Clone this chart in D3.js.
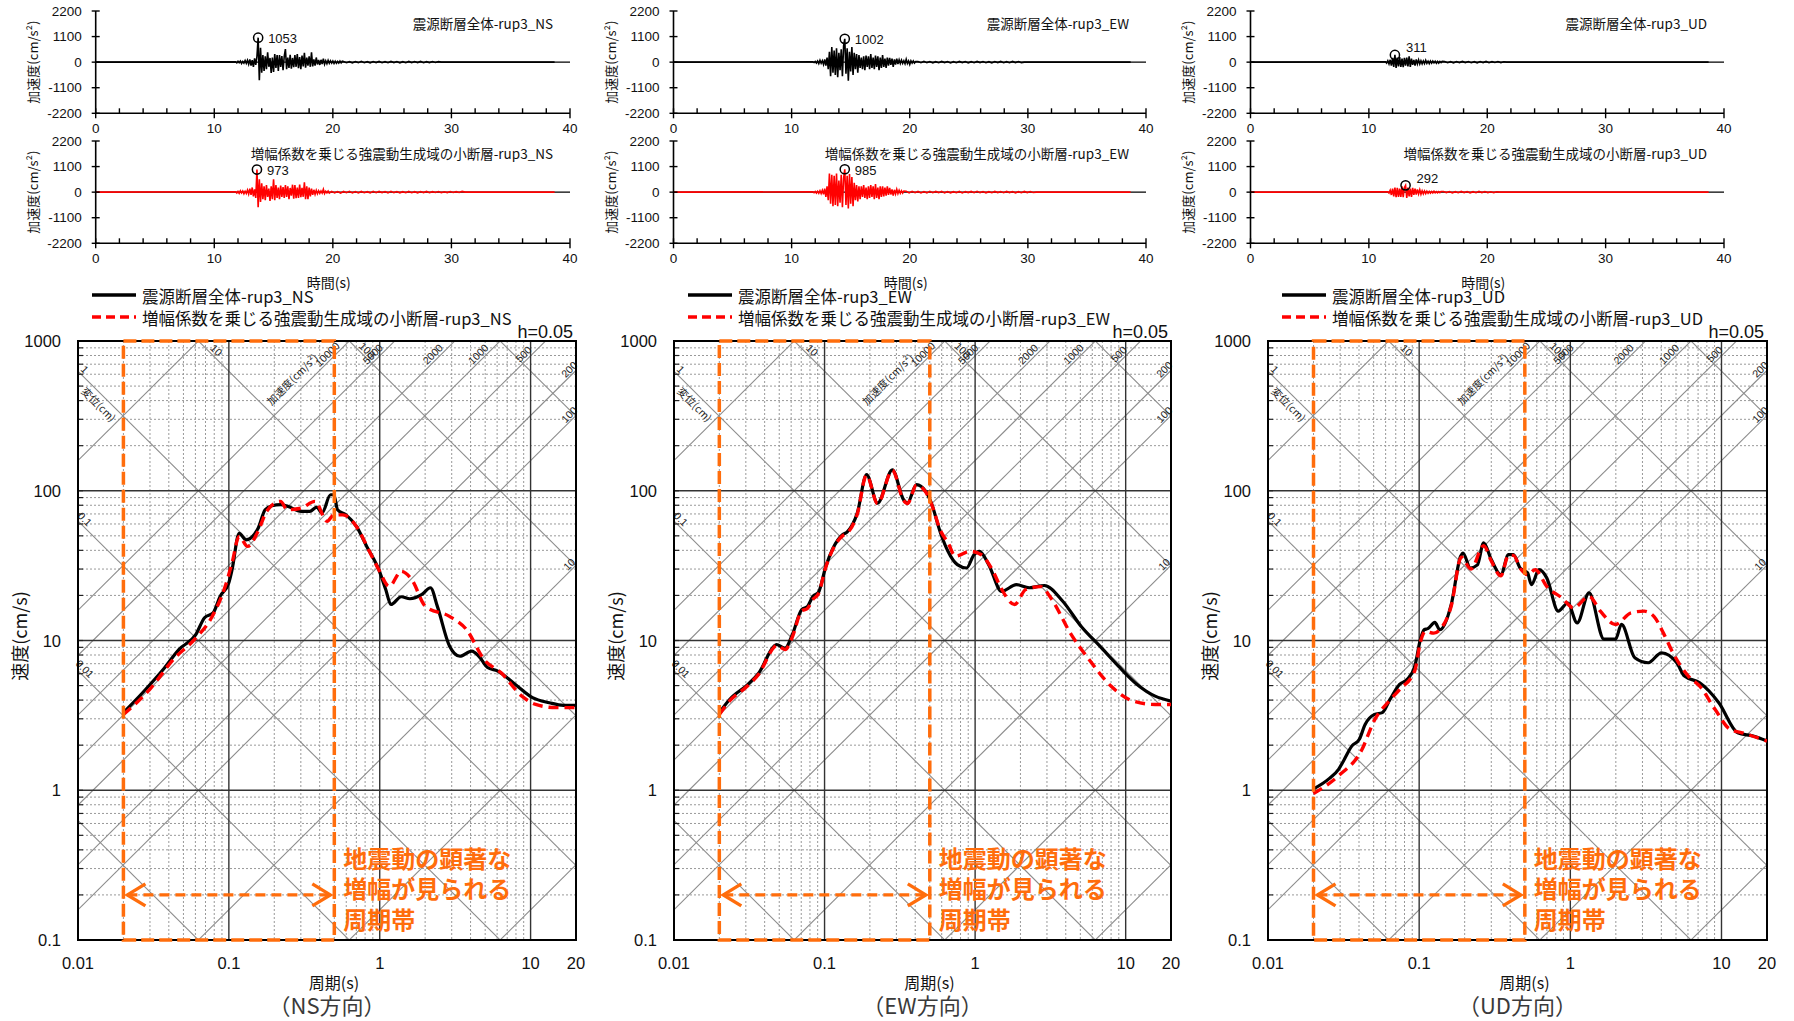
<!DOCTYPE html>
<html><head><meta charset="utf-8">
<script src="https://cdn.jsdelivr.net/npm/d3@7"></script>
<style>
body{margin:0;background:#fff;}
svg{display:block;font-family:"Liberation Sans","Noto Sans CJK JP",sans-serif;}
.cjk{font-family:"Noto Sans CJK JP","Liberation Sans",sans-serif;}
</style></head><body>
<svg id="c" width="1794" height="1021"></svg>
<script>
// ---------------- DATA ----------------
const components = ["NS","EW","UD"];
const directionLabels = ["（NS方向）","（EW方向）","（UD方向）"];
const periodTicks = [0.01,0.1,1,10,20];
const periodTickLabels = ["0.01","0.1","1","10","20"];
const velTicks = [0.1,1,10,100,1000];
const velTickLabels = ["0.1","1","10","100","1000"];
const accLines = [0.1,1,10,100,200,500,1000,2000,5000,10000,100000];
const accLabelled = [10,100,200,500,1000,2000,5000,10000];
const dispLines = [0.001,0.01,0.1,1,10,100,1000];
const dispLabelled = [0.01,0.1,1,10,100];
const bandPeriods = [0.02,0.5];
const bandArrowVel = 0.2;
const bandText = ["地震動の顕著な","増幅が見られる","周期帯"];

// Velocity response spectra (period s, velocity cm/s), h=0.05
const nsBlackT=[0.02,0.0268,0.0367,0.0466,0.0605,0.069,0.0787,0.0875,0.0998,0.105,0.117,0.13,0.156,0.174,0.193,0.22,0.244,0.301,0.344,0.382,0.414,0.472,0.497,0.525,0.598,0.701,0.82,0.986,1.096,1.186,1.39,1.585,1.905,2.17,2.41,2.9,3.4,4.08,4.54,5.18,6.06,7.89,10.3,13.3,16.5,20];
const nsBlackV=[3.3,4.48,6.4,8.7,11,14.2,15.3,19.7,24.2,29.7,52,47,56,74.7,79.4,80.7,79,72.8,72.8,77.8,71,94,94,74.7,69,57.8,42.5,29.7,21.9,17.4,19.6,19,20.3,22.5,16.9,9.2,7.85,8.5,7.85,6.6,6.25,5.1,4.15,3.84,3.69,3.69];
const nsRedT=[0.02,0.0298,0.043,0.0605,0.0767,0.0946,0.105,0.117,0.133,0.156,0.178,0.22,0.244,0.301,0.372,0.448,0.497,0.57,0.70,0.865,0.986,1.156,1.39,1.63,2.01,2.9,3.77,4.91,6.38,8.76,10.8,14.8,20];
const nsRedV=[3.2,4.7,7.5,10.4,14.2,23,33,49.6,42.5,53.5,72.8,84.9,74.7,76.5,84.9,62.5,69,69,57.8,38.4,29.7,23,29,25.5,16.9,14.5,11.8,7.47,6.08,4.25,3.74,3.56,3.56];
const ewBlackT=[0.02,0.0234,0.031,0.0367,0.0461,0.0479,0.0547,0.0612,0.0705,0.0768,0.0836,0.091,0.102,0.114,0.1315,0.141,0.165,0.19,0.225,0.282,0.335,0.355,0.408,0.47,0.512,0.59,0.66,0.762,0.878,0.982,1.07,1.23,1.5,1.88,2.29,2.88,3.82,5.07,6.74,8.95,11.9,15.7,20];
const ewBlackV=[3.3,4.04,5.1,6.1,9.16,9.4,8.9,11,16.1,16.8,19.7,20.9,31.3,41.5,50.9,53,71,128,82.7,138,87,82.7,110,99,82.7,52,39.4,32.1,30.5,37.4,39.4,32.1,21.3,23.6,22.5,23.3,18.3,12.4,9.16,6.74,5.09,4.25,3.94];
const ewRedT=[0.02,0.0234,0.031,0.0367,0.0461,0.0479,0.0547,0.0612,0.0705,0.0768,0.0836,0.091,0.102,0.114,0.1315,0.141,0.165,0.19,0.225,0.282,0.335,0.355,0.408,0.47,0.512,0.59,0.66,0.74,0.928,1.1,1.3,1.5,1.83,2.17,2.72,3.23,4.29,5.69,7.98,11.2,15.7,20];
const ewRedV=[3.2,3.95,5.0,6.0,9.0,9.3,8.7,10.6,15.8,16.3,18.8,20.5,31,41,50,52,70,127,82,137,86,82,109,98,82,54,45,36.5,39.4,37.4,29.7,22,17.4,21.9,22.9,18.8,11.2,7.5,4.96,3.94,3.74,3.74];
const udBlackT=[0.02,0.0255,0.0293,0.0319,0.0358,0.0402,0.0439,0.0507,0.057,0.0641,0.0742,0.0833,0.0936,0.102,0.108,0.114,0.127,0.137,0.163,0.188,0.195,0.218,0.243,0.267,0.30,0.347,0.39,0.42,0.465,0.521,0.553,0.621,0.698,0.832,0.962,1.11,1.33,1.67,1.99,2.18,2.67,3.27,4.01,5.06,5.69,7.18,9.6,12.8,16.2,20];
const udBlackV=[1.02,1.2,1.38,1.6,1.97,2.19,2.75,3.21,3.3,4.04,5.09,5.5,6.74,10.2,11.8,12,13.2,11.8,17.4,36.5,38.4,30.5,32,44.8,34.7,27.5,37.4,37.4,30.5,28.3,23.6,29.7,26.2,15.7,17.8,13.1,20.8,10.2,10.2,12.8,7.66,7.1,8.28,7.1,5.78,5.22,3.84,2.42,2.3,2.13];
const udRedT=[0.02,0.0293,0.0416,0.0507,0.0641,0.0742,0.0936,0.102,0.11,0.125,0.137,0.163,0.19,0.22,0.267,0.30,0.347,0.39,0.42,0.47,0.521,0.586,0.698,0.882,1.05,1.33,1.58,1.99,2.52,3.08,3.57,4.13,4.77,6.03,7.18,9.06,11.4,13.7,20];
const udRedV=[0.95,1.25,1.85,2.95,4.0,4.7,6.3,9.8,11.5,11.2,11.8,17,36,30,43,34,27,37,37,30,27.5,29.7,23,19.2,16.5,19.7,15.7,12.8,15.3,15.7,14.5,11.2,8.28,5.78,4.96,3.47,2.55,2.42,2.13];

// Acceleration time histories (cm/s^2): start time, step, samples, then small tail
const recordEnd = 38.7;
const nsTopStart=11.8, nsTopStep=0.1;
const nsTopAcc=[10,-30,40,-20,50,-60,30,-40,70,-50,80,-90,120,-150,90,-200,160,-120,250,1053,-780,620,-450,300,-380,250,-300,420,-200,180,-460,200,-420,350,-250,300,-380,300,-200,260,-350,250,560,-300,200,-250,320,-280,180,-220,300,-200,350,-260,220,-300,280,-180,400,-240,200,-150,250,-200,420,-180,120,-150,200,-100,90,-120,100,-80,150,-90,60,-70,80,-50,60,-40,50,-60,40,-50,30,-40,50,-30,40];
const nsTopTailStart=20.9, tailStep=0.25;
const nsTopTail=[30,-25,20,-30,25,-20,35,-25,20,-30,25,-20,30,-25,20,-25,30,-20,25,-30,20,-25,30,-20,25,-20,30,-25,20,-20,25,-15,20];
const nsBotStart=11.8, nsBotStep=0.1;
const nsBotAcc=[20,-40,30,-50,60,-30,50,-70,40,-60,90,-80,150,-120,200,-180,120,-250,973,-650,550,-420,380,-300,250,-350,300,-200,150,-380,250,-300,550,-350,300,-250,200,-300,280,-200,220,-250,300,-200,250,-300,180,-150,320,-280,300,-260,200,-250,330,-220,180,-200,420,-300,250,-300,200,-180,150,-120,100,-90,80,-70,60,-50,50,-40,120,-60,40,-30,50,-40];
const nsBotTailStart=19.9;
const nsBotTail=[35,-30,25,-40,30,-25,35,-30,25,-35,30,-25,20,-30,35,-25,30,-20,25,-30,35,-20,25,-30,20,-25,30,-25,20,-30,25,-20,30,-25,20,-15,25,-20,15,-20,25,-15,20,-15,30];
const ewTopStart=11.8, ewTopStep=0.1;
const ewTopAcc=[10,-20,30,-40,50,-60,80,-50,60,-100,120,-150,200,-300,450,-600,650,-450,500,-550,600,-650,400,-350,550,-600,700,1002,-500,600,-800,450,-400,650,-550,400,-300,350,-450,300,-250,200,-300,250,-350,280,-200,250,-300,350,-250,200,-300,280,-200,250,-350,200,-250,300,-200,150,-250,200,-150,180,-120,150,-200,120,-100,150,-80,100,-60,90,-50,60,-70,120,-60,50,-100,60,-40,50,-40,30];
const ewTopTailStart=20.7;
const ewTopTail=[30,-25,35,-20,25,-30,20,-25,30,-20,25,-35,20,-25,30,-20,25,-30,20,-25,30,-20,25,-25,20,-30,25,-20,30,-25,20,-25,30,-20,25,-20];
const ewBotStart=11.8, ewBotStep=0.1;
const ewBotAcc=[15,-25,30,-40,40,-50,60,-60,80,-90,150,-200,250,-350,800,-500,750,-600,700,-550,800,-600,500,-450,750,-650,600,985,-550,700,-700,780,-500,650,-600,400,-350,300,-400,250,-300,250,-200,300,-250,200,-300,250,-250,300,-200,250,-300,350,-250,200,-300,250,-200,250,-180,200,-150,250,-120,180,-100,120,-150,100,-80,120,-60,80,-50,60,-40,50];
const ewBotTailStart=19.7;
const ewBotTail=[40,-30,35,-25,30,-35,25,-30,35,-25,30,-20,35,-30,25,-30,20,-25,30,-35,25,-20,30,-25,35,-20,25,-30,20,-25,30,-20,25,-25,30,-20,25,-30,20,-25,30,-20,25,-15];
const udTopStart=11.4, udTopStep=0.1;
const udTopAcc=[20,-40,60,-80,100,-150,180,-200,311,-250,200,-180,220,-200,150,-220,180,-150,200,-180,250,-200,150,-120,100,-150,120,-80,100,-80,60,-70,50,-60,80,-50,40,-60,50,-40,50,-30,40,-50,30,-40,30,-20,40];
const udTopTailStart=16.4;
const udTopTail=[30,-25,20,-30,25,-20,30,-20,25,-25,20,-30,25,-20,30,-25,20,-15,25,-20,15];
const udBotStart=11.6, udBotStep=0.1;
const udBotAcc=[20,-40,80,-120,150,-180,200,-220,180,-200,150,-200,250,-220,200,292,-250,200,-180,150,-200,180,-120,150,-100,120,-80,100,-90,60,-70,50,-60,40,-50,30,-40,30,-30,40,-30,20,-30,25,-20,30];
const udBotTailStart=16.3;
const udBotTail=[30,-20,25,-30,20,-25,30,-20,25,-30,20,-25,30,-20,25,-20,15,-20,15];
const peakTimes=[[13.7,13.6],[14.5,14.5],[12.2,13.1]];
const peakValues=[[1053,973],[1002,985],[311,292]];

// ---------------- LAYOUT ----------------
const svg=d3.select("#c");
const TWO_PI=2*Math.PI;
const tripLeft=[78,674,1268], tripRight=[576,1171,1767];
const tripTop=341, tripBottom=940;
const waveLeft=[95.7,673.5,1250.5], waveRight=[570,1146,1724];
const waveRows=[[11,113.3],[141,243.3]];
const ORANGE="#ff6d0c";

function drawTrip(i, blackT, blackV, redT, redV){
  const L=tripLeft[i], R=tripRight[i], T=tripTop, B=tripBottom;
  const x=d3.scaleLog().domain([0.01,20]).range([L,R]);
  const y=d3.scaleLog().domain([0.1,1000]).range([B,T]);
  svg.append("clipPath").attr("id","cp"+i).append("rect")
    .attr("x",L).attr("y",T).attr("width",R-L).attr("height",B-T);
  const g=svg.append("g").attr("clip-path",`url(#cp${i})`);
  const xMinor=[]; for(const d of [0.01,0.1,1,10]) for(let k=2;k<=9;k++){const v=d*k; if(v<20) xMinor.push(v);}
  const yMinor=[]; for(const d of [0.1,1,10,100]) for(let k=2;k<=9;k++) yMinor.push(d*k);
  g.selectAll(".xm").data(xMinor).join("line").attr("x1",d=>x(d)).attr("x2",d=>x(d)).attr("y1",T).attr("y2",B)
    .attr("stroke","#999").attr("stroke-width",1).attr("stroke-dasharray","2,2");
  g.selectAll(".ym").data(yMinor).join("line").attr("y1",d=>y(d)).attr("y2",d=>y(d)).attr("x1",L).attr("x2",R)
    .attr("stroke","#999").attr("stroke-width",1).attr("stroke-dasharray","2,2");
  // diagonal lines
  g.selectAll(".acc").data(accLines).join("line")
    .attr("x1",x(1e-3)).attr("y1",d=>y(d*1e-3/TWO_PI)).attr("x2",x(100)).attr("y2",d=>y(d*100/TWO_PI))
    .attr("stroke","#8c8c8c").attr("stroke-width",1.1);
  g.selectAll(".dis").data(dispLines).join("line")
    .attr("x1",x(1e-3)).attr("y1",d=>y(TWO_PI*d/1e-3)).attr("x2",x(100)).attr("y2",d=>y(TWO_PI*d/100))
    .attr("stroke","#8c8c8c").attr("stroke-width",1.1);
  // major grid
  g.selectAll(".xM").data([0.1,1,10]).join("line").attr("x1",d=>x(d)).attr("x2",d=>x(d)).attr("y1",T).attr("y2",B)
    .attr("stroke","#333").attr("stroke-width",1.4);
  g.selectAll(".yM").data([1,10,100]).join("line").attr("y1",d=>y(d)).attr("y2",d=>y(d)).attr("x1",L).attr("x2",R)
    .attr("stroke","#333").attr("stroke-width",1.4);
  // left inner ticks
  svg.append("g").selectAll("line").data(yMinor.concat([1,10,100])).join("line")
    .attr("x1",L).attr("x2",L+5).attr("y1",d=>y(d)).attr("y2",d=>y(d)).attr("stroke","#222").attr("stroke-width",1.2);
  // diagonal labels
  const lab=svg.append("g").attr("font-size",10.5).attr("fill","#222");
  accLabelled.forEach(A=>{
    const Ttop=TWO_PI*1000/A; let cx,cy;
    if(Ttop<=20){ cy=T+13; const Vc=y.invert(cy); cx=x(TWO_PI*Vc/A)-9; }
    else { cx=R-7; const Tc=x.invert(cx); cy=y(A*Tc/TWO_PI)-8; }
    lab.append("text").attr("transform",`translate(${cx},${cy}) rotate(-45)`).attr("text-anchor","middle")
      .attr("dominant-baseline","central").text(A);
  });
  {
    const cy=T+38, Vc=y.invert(cy), cx=x(TWO_PI*Vc/10000)-19;
    lab.append("text").attr("class","cjk").attr("transform",`translate(${cx},${cy}) rotate(-45)`).attr("text-anchor","middle")
      .attr("dominant-baseline","central").text("加速度(cm/s²)");
  }
  dispLabelled.forEach(D=>{
    const Ttop=TWO_PI*D/1000; let cx,cy;
    if(Ttop>=0.01){ cy=T+9; const Vc=y.invert(cy); cx=x(TWO_PI*D/Vc)+9; }
    else { cx=L+7; const Tc=x.invert(cx); cy=y(TWO_PI*D/Tc)-9; }
    lab.append("text").attr("transform",`translate(${cx},${cy}) rotate(45)`).attr("text-anchor","middle")
      .attr("dominant-baseline","central").text(D);
  });
  {
    const cx=L+21, Tc=x.invert(cx), cy=y(TWO_PI*1/Tc)+12;
    lab.append("text").attr("class","cjk").attr("transform",`translate(${cx},${cy}) rotate(45)`).attr("text-anchor","middle")
      .attr("dominant-baseline","central").text("変位(cm)");
  }
  // border
  svg.append("rect").attr("x",L).attr("y",T).attr("width",R-L).attr("height",B-T)
    .attr("fill","none").attr("stroke","#000").attr("stroke-width",2);
  // curves
  const line=d3.line().x(d=>x(d[0])).y(d=>y(d[1])).curve(d3.curveMonotoneX);
  const cg=svg.append("g").attr("clip-path",`url(#cp${i})`);
  cg.append("path").attr("d",line(blackT.map((t,k)=>[t,blackV[k]]))).attr("fill","none")
    .attr("stroke","#000").attr("stroke-width",3.2).attr("stroke-linejoin","round");
  cg.append("path").attr("d",line(redT.map((t,k)=>[t,redV[k]]))).attr("fill","none")
    .attr("stroke","#ff0000").attr("stroke-width",3.4).attr("stroke-dasharray","10,6");
  // orange band box
  const bx1=x(bandPeriods[0]), bx2=x(bandPeriods[1]);
  svg.append("rect").attr("x",bx1).attr("y",T).attr("width",bx2-bx1).attr("height",B-T)
    .attr("fill","none").attr("stroke",ORANGE).attr("stroke-width",3.5).attr("stroke-dasharray","13,5");
  const ay=y(bandArrowVel);
  svg.append("line").attr("x1",bx1+4).attr("x2",bx2-4).attr("y1",ay).attr("y2",ay)
    .attr("stroke",ORANGE).attr("stroke-width",3.2).attr("stroke-dasharray","10,6");
  svg.append("path").attr("d",`M${bx1+22},${ay-11}L${bx1+4},${ay}L${bx1+22},${ay+11}M${bx2-22},${ay-11}L${bx2-4},${ay}L${bx2-22},${ay+11}`)
    .attr("fill","none").attr("stroke",ORANGE).attr("stroke-width",3.4);
  bandText.forEach((s,k)=>{
    svg.append("text").attr("class","cjk").attr("x",bx2+9).attr("y",857+k*30.5).attr("dominant-baseline","central")
      .attr("font-size",24).attr("font-weight",700).attr("fill",ORANGE).text(s);
  });
  // tick labels
  svg.append("g").selectAll("text").data(velTicks).join("text")
    .attr("x",L-17).attr("y",d=>y(d)).attr("text-anchor","end").attr("dominant-baseline","central")
    .attr("font-size",16.5).attr("fill","#111").text((d,k)=>velTickLabels[k]);
  svg.append("g").selectAll("text").data(periodTicks).join("text")
    .attr("x",d=>x(d)).attr("y",963).attr("text-anchor","middle").attr("dominant-baseline","central")
    .attr("font-size",16.5).attr("fill","#111").text((d,k)=>periodTickLabels[k]);
  const cxm=(L+R)/2;
  svg.append("text").attr("class","cjk").attr("x",cxm+7).attr("y",982).attr("text-anchor","middle").attr("dominant-baseline","central")
    .attr("font-size",16).attr("fill","#111").text("周期(s)");
  svg.append("text").attr("class","cjk").attr("x",cxm).attr("y",1004).attr("text-anchor","middle").attr("dominant-baseline","central")
    .attr("font-size",22).attr("fill","#3a3a3a").text(directionLabels[i]);
  svg.append("text").attr("class","cjk").attr("transform",`translate(${L-59},${636}) rotate(-90)`).attr("text-anchor","middle")
    .attr("dominant-baseline","central").attr("font-size",18).attr("fill","#111").text("速度(cm/s)");
  svg.append("text").attr("x",R-3).attr("y",338).attr("text-anchor","end").attr("font-size",18).attr("fill","#111").text("h=0.05");
  // legend
  const c=components[i];
  svg.append("line").attr("x1",L+14).attr("x2",L+58).attr("y1",295).attr("y2",295).attr("stroke","#000").attr("stroke-width",3.5);
  svg.append("line").attr("x1",L+14).attr("x2",L+58).attr("y1",317).attr("y2",317).attr("stroke","#ff0000").attr("stroke-width",3.5).attr("stroke-dasharray","9,5");
  svg.append("text").attr("class","cjk").attr("x",L+64).attr("y",296).attr("dominant-baseline","central").attr("font-size",16.5).attr("fill","#111").text(`震源断層全体-rup3_${c}`);
  svg.append("text").attr("class","cjk").attr("x",L+64).attr("y",318).attr("dominant-baseline","central").attr("font-size",16.5).attr("fill","#111").text(`増幅係数を乗じる強震動生成域の小断層-rup3_${c}`);
}

function drawWave(i, r, t0, dt, vals, tailT0, tail, color, title){
  const [top,bot]=waveRows[r];
  const L=waveLeft[i], R=waveRight[i];
  const x=d3.scaleLinear().domain([0,40]).range([L,R]);
  const y=d3.scaleLinear().domain([-2200,2200]).range([bot,top]);
  const g=svg.append("g");
  // zero line
  g.append("line").attr("x1",L).attr("x2",R).attr("y1",y(0)).attr("y2",y(0)).attr("stroke","#000").attr("stroke-width",1.3);
  // trace
  const pts=[[0,0]];
  vals.forEach((v,k)=>pts.push([t0+k*dt,v]));
  tail.forEach((v,k)=>pts.push([tailT0+k*tailStep,v]));
  pts.push([tailT0+tail.length*tailStep,0]); pts.push([recordEnd,0]);
  g.append("path").attr("d",d3.line().x(d=>x(d[0])).y(d=>y(d[1]))(pts)).attr("fill","none")
    .attr("stroke",color).attr("stroke-width",1.6).attr("stroke-linejoin","miter");
  // axes
  g.append("line").attr("x1",L).attr("x2",L).attr("y1",top).attr("y2",bot).attr("stroke","#000").attr("stroke-width",1.6);
  g.append("line").attr("x1",L).attr("x2",R).attr("y1",bot).attr("y2",bot).attr("stroke","#000").attr("stroke-width",1.6);
  const yt=[-2200,-1100,0,1100,2200];
  g.selectAll(".yt").data(yt).join("line").attr("x1",L-4).attr("x2",L+4).attr("y1",d=>y(d)).attr("y2",d=>y(d)).attr("stroke","#000").attr("stroke-width",1.4);
  const xt=d3.range(0,41,2);
  g.selectAll(".xt").data(xt).join("line").attr("x1",d=>x(d)).attr("x2",d=>x(d))
    .attr("y1",d=>d%10===0?bot+5:bot).attr("y2",bot-5).attr("stroke","#000").attr("stroke-width",1.4);
  g.selectAll(".ytl").data(yt).join("text").attr("x",L-14).attr("y",d=>y(d)).attr("text-anchor","end")
    .attr("dominant-baseline","central").attr("font-size",13.5).attr("fill","#111").text(d=>d);
  g.selectAll(".xtl").data([0,10,20,30,40]).join("text").attr("x",d=>x(d)).attr("y",bot+15).attr("text-anchor","middle")
    .attr("dominant-baseline","central").attr("font-size",13.5).attr("fill","#111").text(d=>d);
  g.append("text").attr("class","cjk").attr("transform",`translate(${L-63},${(top+bot)/2}) rotate(-90)`).attr("text-anchor","middle")
    .attr("dominant-baseline","central").attr("font-size",13).attr("fill","#111").text("加速度(cm/s²)");
  g.append("text").attr("class","cjk").attr("x",R-17).attr("y",top+12).attr("text-anchor","end").attr("dominant-baseline","central")
    .attr("font-size",13.5).attr("fill","#111").text(title);
  // peak marker
  const pt=peakTimes[i][r], pv=peakValues[i][r];
  g.append("circle").attr("cx",x(pt)).attr("cy",y(pv)).attr("r",4.6).attr("fill","none").attr("stroke","#000").attr("stroke-width",1.5);
  const isUD=i===2;
  g.append("text").attr("x",x(pt)+(isUD?11:10)).attr("y",y(pv)+(isUD?-7:1)).attr("dominant-baseline","central")
    .attr("font-size",13).attr("fill","#111").text(pv);
  if(r===1){
    svg.append("text").attr("class","cjk").attr("x",(L+R)/2-4).attr("y",282).attr("text-anchor","middle")
      .attr("dominant-baseline","central").attr("font-size",14).attr("fill","#111").text("時間(s)");
  }
}

drawTrip(0,nsBlackT,nsBlackV,nsRedT,nsRedV);
drawTrip(1,ewBlackT,ewBlackV,ewRedT,ewRedV);
drawTrip(2,udBlackT,udBlackV,udRedT,udRedV);

drawWave(0,0,nsTopStart,nsTopStep,nsTopAcc,nsTopTailStart,nsTopTail,"#000","震源断層全体-rup3_NS");
drawWave(0,1,nsBotStart,nsBotStep,nsBotAcc,nsBotTailStart,nsBotTail,"#ff0000","増幅係数を乗じる強震動生成域の小断層-rup3_NS");
drawWave(1,0,ewTopStart,ewTopStep,ewTopAcc,ewTopTailStart,ewTopTail,"#000","震源断層全体-rup3_EW");
drawWave(1,1,ewBotStart,ewBotStep,ewBotAcc,ewBotTailStart,ewBotTail,"#ff0000","増幅係数を乗じる強震動生成域の小断層-rup3_EW");
drawWave(2,0,udTopStart,udTopStep,udTopAcc,udTopTailStart,udTopTail,"#000","震源断層全体-rup3_UD");
drawWave(2,1,udBotStart,udBotStep,udBotAcc,udBotTailStart,udBotTail,"#ff0000","増幅係数を乗じる強震動生成域の小断層-rup3_UD");
</script>
</body></html>
